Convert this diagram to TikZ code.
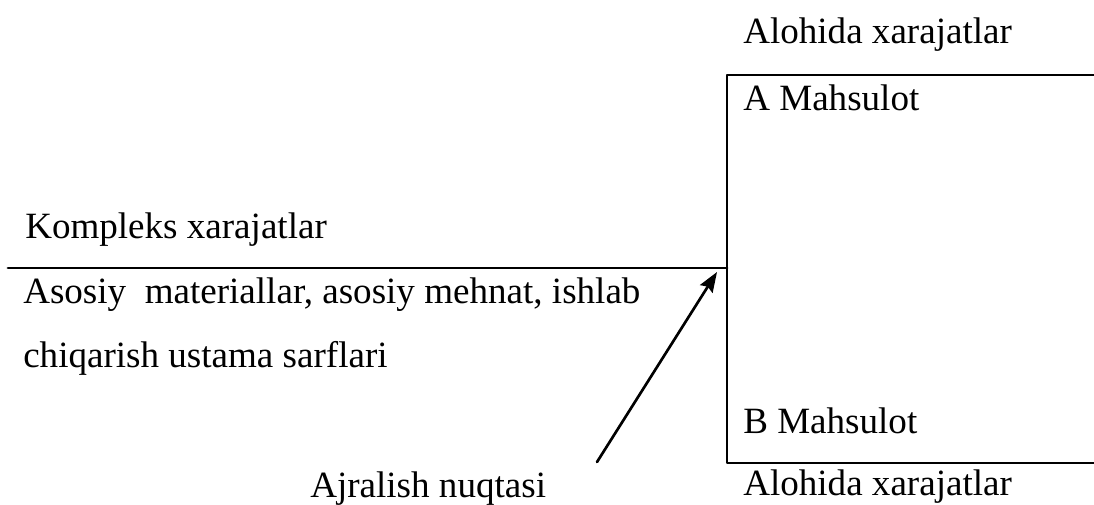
\documentclass[tikz,border=0pt]{standalone}
\usepackage{fontspec}
\setmainfont{Liberation Serif}
\usetikzlibrary{arrows.meta}
\begin{document}
\begin{tikzpicture}[x=0.75pt, y=-0.75pt, line join=round, line cap=round, >={Stealth[length=15pt, width=11pt, inset=2pt]}, font=\fontsize{27.8}{32}\selectfont]

	\useasboundingbox (0,0) rectangle (1094,504);
	% Định nghĩa các tọa độ của khung
	\coordinate (L) at (8,268);
	\coordinate (O) at (727,268);
	\coordinate (T) at (727,75);
	\coordinate (B) at (727,463);
	\coordinate (TR) at (1094,75);
	\coordinate (BR) at (1094,463);
	\coordinate (P) at (597,462);
	\coordinate (Q) at (717,272);
	% Đường ngang và khung bên phải
	\draw[line width=2.2pt] (L) -- (O);
	\draw[line width=2.2pt] (TR) -- (T) -- (B) -- (BR);
	% Mũi tên chỉ điểm tách
	\draw[->, line width=2pt] (P) -- (Q);

	% Thêm nhãn
	\node[anchor=base west, inner sep=0pt] (top) at (743,43) {Alohida xarajatlar};
	\node[anchor=base west, inner sep=0pt] (A) at (743,110) {A Mahsulot};
	\node[anchor=base west, inner sep=0pt] (K) at (25,238) {Kompleks xarajatlar};
	\node[anchor=base west, inner sep=0pt] (M1) at (23,303) {Asosiy\ \ materiallar, asosiy mehnat, ishlab};
	\node[anchor=base west, inner sep=0pt] (M2) at (23,367) {chiqarish ustama sarflari};
	\node[anchor=base west, inner sep=0pt] (Bm) at (743,433) {B Mahsulot};
	\node[anchor=base west, inner sep=0pt] (N) at (310,497) {Ajralish nuqtasi};
	\node[anchor=base west, inner sep=0pt] (bot) at (743,495) {Alohida xarajatlar};

\end{tikzpicture}
\end{document}
